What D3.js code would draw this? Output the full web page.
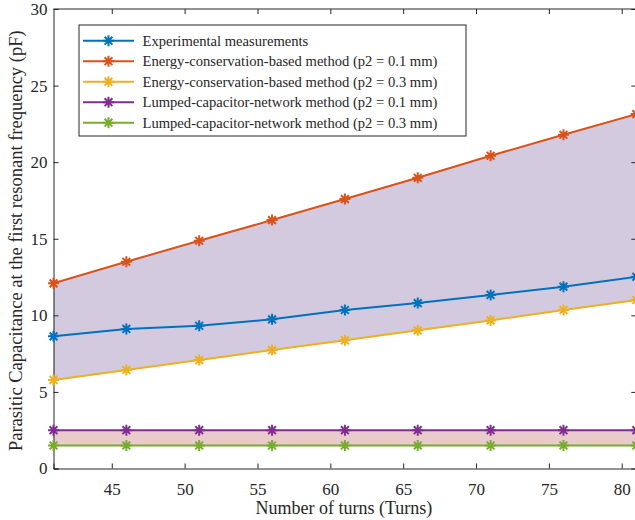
<!DOCTYPE html>
<html>
<head>
<meta charset="utf-8">
<script src="https://cdn.jsdelivr.net/npm/d3@7"></script>
<style>
  body { margin: 0; background: #fff; }
  text { font-family: "Liberation Serif", "Times New Roman", serif; fill: #262626; }
</style>
</head>
<body>
<div id="chart"></div>
<script>
(function() {

    var width = 635;
    var height = 520;

    // data
    var turns = [41, 46, 51, 56, 61, 66, 71, 76, 81];
    var experimental = [8.63, 9.11, 9.32, 9.74, 10.35, 10.80, 11.33, 11.87, 12.52];
    var energy01 = [12.09, 13.50, 14.87, 16.22, 17.59, 18.98, 20.42, 21.79, 23.14];
    var energy03 = [5.78, 6.43, 7.08, 7.73, 8.37, 9.02, 9.67, 10.35, 11.00];
    var lumped01 = [2.5, 2.5, 2.5, 2.5, 2.5, 2.5, 2.5, 2.5, 2.5];
    var lumped03 = [1.5, 1.5, 1.5, 1.5, 1.5, 1.5, 1.5, 1.5, 1.5];

    var xTicks = [45, 50, 55, 60, 65, 70, 75, 80];
    var yTicks = [0, 5, 10, 15, 20, 25, 30];

    var seriesNames = [
        "Experimental measurements",
        "Energy-conservation-based method (p2 = 0.1 mm)",
        "Energy-conservation-based method (p2 = 0.3 mm)",
        "Lumped-capacitor-network method (p2 = 0.1 mm)",
        "Lumped-capacitor-network method (p2 = 0.3 mm)"
    ];
    var seriesValues = [experimental, energy01, energy03, lumped01, lumped03];
    var seriesColors = ["#0072BD", "#D95319", "#EDB120", "#7E2F8E", "#77AC30"];

    var font = "'Liberation Serif', 'Times New Roman', serif";
    var left = 53.5, right = 636.3, top = 9, bottom = 468.5;

    var x = d3.scaleLinear().domain([41, 81]).range([left, right]);
    var y = d3.scaleLinear().domain([0, 30]).range([bottom, top]);

    var svg = d3.select("#chart")
        .append("svg")
        .attr("width", width)
        .attr("height", height);

    // shaded bands
    var band = function (hi, lo) {
        return d3.area()
            .x(function (d, i) { return x(turns[i]); })
            .y0(function (d, i) { return y(lo[i]); })
            .y1(function (d, i) { return y(hi[i]); })(turns);
    };
    svg.append("path").attr("d", band(energy01, energy03)).attr("fill", "#d3cadf");
    svg.append("path").attr("d", band(lumped01, lumped03)).attr("fill", "#eacbcb");

    // axes
    var axisColor = "#262626";
    var gx = svg.append("g").attr("transform", "translate(0," + bottom + ")")
        .call(d3.axisBottom(x).tickValues(xTicks).tickSize(-5).tickPadding(14.5));
    var gxt = svg.append("g").attr("transform", "translate(0," + top + ")")
        .call(d3.axisTop(x).tickValues(xTicks).tickSize(-5).tickFormat(""));
    var gy = svg.append("g").attr("transform", "translate(" + left + ",0)")
        .call(d3.axisLeft(y).tickValues(yTicks).tickSize(-5).tickPadding(6));
    var gyr = svg.append("g").attr("transform", "translate(" + right + ",0)")
        .call(d3.axisRight(y).tickValues(yTicks).tickSize(-5).tickFormat(""));

    [gx, gxt, gy, gyr].forEach(function (g) {
        g.attr("font-family", font).attr("font-size", 17);
        g.select(".domain").attr("stroke", axisColor).attr("stroke-width", 1);
        g.selectAll(".tick line").attr("stroke", axisColor);
        g.selectAll(".tick text").attr("fill", axisColor);
    });
    gxt.select(".domain").attr("d", "M" + left + ",0H" + right);
    gyr.select(".domain").attr("d", "M0," + top + "V" + bottom);

    // asterisk marker
    var star = function (r) {
        var d = "";
        for (var k = 0; k < 4; k++) {
            var a = k * Math.PI / 4;
            var dx = r * Math.cos(a), dy = r * Math.sin(a);
            d += "M" + (-dx) + "," + (-dy) + "L" + dx + "," + dy;
        }
        return d;
    };

    var line = d3.line()
        .x(function (d, i) { return x(turns[i]); })
        .y(function (d) { return y(d); });

    seriesValues.forEach(function (vals, s) {
        svg.append("path")
            .attr("d", line(vals))
            .attr("fill", "none")
            .attr("stroke", seriesColors[s])
            .attr("stroke-width", 2);
        svg.selectAll(".m" + s).data(vals).enter().append("path")
            .attr("class", "m" + s)
            .attr("transform", function (d, i) { return "translate(" + x(turns[i]) + "," + y(d) + ")"; })
            .attr("d", star(5.5))
            .attr("stroke", seriesColors[s])
            .attr("stroke-width", 2)
            .attr("fill", "none");
    });

    // axis labels
    svg.append("text")
        .attr("x", (left + right) / 2 - 1)
        .attr("y", 514)
        .attr("text-anchor", "middle")
        .attr("font-family", font)
        .style("font-size", "18px")
        .text("Number of turns (Turns)");

    svg.append("text")
        .attr("transform", "translate(22," + ((top + bottom) / 2 + 2) + ") rotate(-90)")
        .attr("text-anchor", "middle")
        .attr("font-family", font)
        .style("font-size", "18.5px")
        .text("Parasitic Capacitance at the first resonant frequency (pF)");

    // legend
    var legend = svg.append("g");
    legend.append("rect")
        .attr("x", 79).attr("y", 25)
        .attr("width", 387).attr("height", 111)
        .attr("fill", "#fff")
        .attr("stroke", axisColor)
        .attr("stroke-width", 1);

    seriesNames.forEach(function (name, s) {
        var ly = 40.7 + s * 20.5;
        legend.append("line")
            .attr("x1", 83).attr("x2", 134)
            .attr("y1", ly).attr("y2", ly)
            .attr("stroke", seriesColors[s])
            .attr("stroke-width", 2);
        legend.append("path")
            .attr("transform", "translate(108.5," + ly + ")")
            .attr("d", star(5.5))
            .attr("stroke", seriesColors[s])
            .attr("stroke-width", 2);
        legend.append("text")
            .attr("x", 142.5).attr("y", ly)
            .attr("dy", "0.35em")
            .attr("font-family", font)
            .style("font-size", "14.6px")
            .text(name);
    });

})();
</script>
</body>
</html>
